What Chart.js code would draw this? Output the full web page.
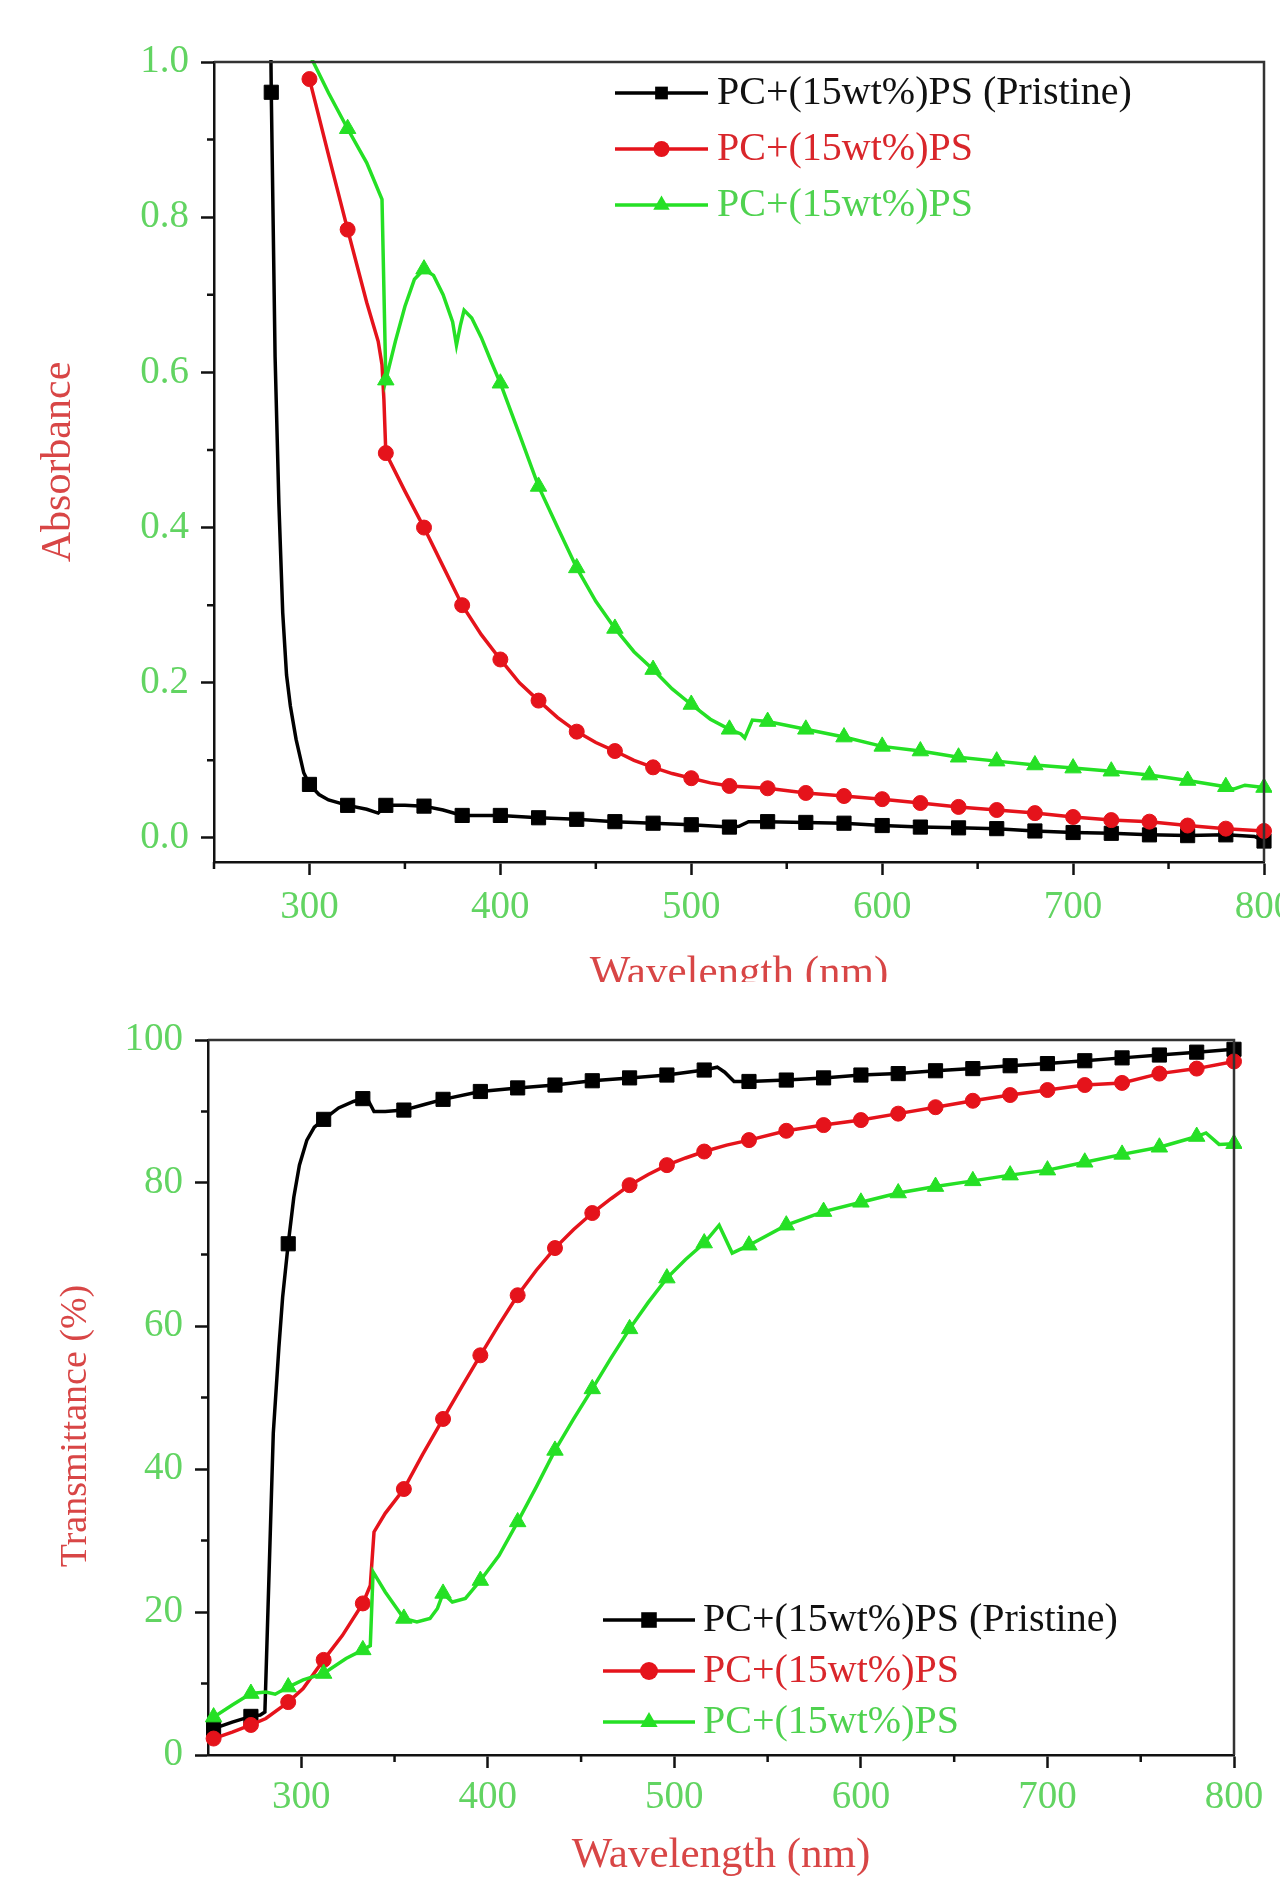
<!DOCTYPE html>
<html>
<head>
<meta charset="utf-8">
<title>Absorbance / Transmittance</title>
<script src="https://cdn.jsdelivr.net/npm/chart.js@4.4.1/dist/chart.umd.min.js"></script>
<style>
  html, body { margin: 0; padding: 0; background: #fff; }
  body { width: 1280px; height: 1882px; overflow: hidden; position: relative; }
  #topWrap { position: absolute; left: 0; top: 0; width: 1280px; height: 982px; overflow: hidden; }
  #topBox { position: relative; width: 1330px; height: 1010px; }
  #botBox { position: absolute; left: 0; top: 982px; width: 1280px; height: 900px; }
</style>
</head>
<body>
<div id="topWrap"><div id="topBox"><canvas id="absorbancia"></canvas></div></div>
<div id="botBox"><canvas id="transmitancia"></canvas></div>
<script>
// ---- datos: absorbancia ----
const absNegroWl = [279.5, 280, 282, 284, 286, 288, 290, 293, 297, 300, 305, 310, 320, 330, 336, 340, 350, 360, 370, 380, 400, 420, 440, 460, 480, 500, 520, 525, 530, 540, 560, 580, 600, 620, 640, 660, 680, 700, 720, 740, 760, 780, 795, 800];
const absNegro   = [1.08, 0.961, 0.62, 0.43, 0.29, 0.21, 0.17, 0.127, 0.084, 0.069, 0.056, 0.049, 0.042, 0.037, 0.032, 0.042, 0.042, 0.041, 0.036, 0.029, 0.029, 0.026, 0.024, 0.021, 0.019, 0.017, 0.014, 0.015, 0.021, 0.021, 0.020, 0.019, 0.016, 0.014, 0.013, 0.012, 0.009, 0.007, 0.006, 0.004, 0.003, 0.004, 0.002, -0.004];

const absRojoWl = [300, 310, 320, 330, 336, 338, 339, 340, 350, 360, 370, 380, 390, 400, 410, 420, 430, 440, 450, 460, 470, 480, 490, 500, 510, 520, 540, 560, 580, 600, 620, 640, 660, 680, 700, 720, 740, 760, 780, 800];
const absRojo   = [0.978, 0.88, 0.784, 0.69, 0.64, 0.61, 0.565, 0.496, 0.447, 0.40, 0.35, 0.30, 0.262, 0.23, 0.20, 0.177, 0.155, 0.137, 0.123, 0.112, 0.10, 0.091, 0.083, 0.077, 0.071, 0.067, 0.064, 0.058, 0.054, 0.05, 0.045, 0.04, 0.036, 0.032, 0.027, 0.023, 0.021, 0.016, 0.012, 0.009];

const absVerdeWl = [300, 302, 310, 320, 330, 338, 340, 345, 350, 355, 360, 365, 370, 375, 377, 379, 381, 385, 390, 395, 400, 410, 420, 430, 440, 450, 460, 470, 480, 490, 500, 510, 520, 526, 528, 532, 540, 560, 580, 600, 620, 640, 660, 680, 700, 720, 740, 760, 780, 784, 790, 800];
const absVerde   = [1.01, 1.0, 0.96, 0.914, 0.87, 0.823, 0.59, 0.64, 0.685, 0.72, 0.733, 0.725, 0.70, 0.665, 0.635, 0.66, 0.68, 0.67, 0.645, 0.615, 0.586, 0.52, 0.453, 0.40, 0.348, 0.305, 0.27, 0.24, 0.217, 0.192, 0.172, 0.153, 0.14, 0.134, 0.129, 0.152, 0.15, 0.14, 0.13, 0.118, 0.112, 0.104, 0.099, 0.094, 0.09, 0.086, 0.081, 0.074, 0.066, 0.063, 0.068, 0.065];

const absMarcas = [280, 300, 320, 340, 360, 380, 400, 420, 440, 460, 480, 500, 520, 540, 560, 580, 600, 620, 640, 660, 680, 700, 720, 740, 760, 780, 800];
const absTicksX = [300, 400, 500, 600, 700, 800];
const absMenoresX = [250, 350, 450, 550, 650, 750];
const absTicksY = [0.0, 0.2, 0.4, 0.6, 0.8, 1.0];
const absMenoresY = [0.1, 0.3, 0.5, 0.7, 0.9];

// ---- datos: transmitancia ----
const trNegroWl = [250, 253, 263, 273, 278, 280.5, 285, 288, 290, 293, 296, 299, 303, 307, 312, 320, 328, 333, 336, 339, 345, 355, 365, 376, 396, 416, 436, 456, 476, 496, 516, 523, 527, 532, 540, 560, 580, 600, 620, 640, 660, 680, 700, 720, 740, 760, 780, 800];
const trNegro   = [3.5, 3.7, 4.6, 5.4, 5.6, 6.0, 45, 57, 64, 71.5, 78, 82.5, 86, 87.8, 88.9, 90.5, 91.4, 91.8, 91.5, 90.0, 90.0, 90.2, 90.9, 91.7, 92.8, 93.3, 93.7, 94.3, 94.7, 95.1, 95.8, 96.2, 95.5, 94.2, 94.2, 94.4, 94.7, 95.1, 95.3, 95.7, 96.0, 96.4, 96.7, 97.1, 97.5, 97.9, 98.3, 98.7];

const trRojoWl = [250, 253, 263, 273, 281, 293, 301, 312, 322, 333, 337, 339, 345, 355, 365, 376, 386, 396, 406, 416, 426, 436, 446, 456, 466, 476, 486, 496, 506, 516, 528, 540, 560, 580, 600, 620, 640, 660, 680, 700, 720, 740, 760, 780, 800];
const trRojo   = [2.1, 2.3, 3.2, 4.2, 5.1, 7.4, 9.3, 13.3, 16.7, 21.2, 23.7, 31.2, 33.8, 37.2, 42, 47, 51.5, 55.9, 60.2, 64.3, 67.8, 70.9, 73.5, 75.8, 77.8, 79.7, 81.2, 82.5, 83.5, 84.4, 85.3, 86, 87.3, 88.1, 88.8, 89.7, 90.6, 91.5, 92.3, 93.0, 93.7, 94.0, 95.3, 96.0, 97.0];

const trVerdeWl = [250, 253, 263, 273, 281, 286, 293, 301, 312, 324, 333, 337, 338.5, 345, 355, 362, 369, 373, 376, 381, 388, 396, 406, 416, 426, 436, 446, 456, 466, 476, 486, 496, 506, 516, 524, 531, 540, 560, 580, 600, 620, 640, 660, 680, 700, 720, 740, 760, 780, 785, 792, 800];
const trVerde   = [5.1, 5.3, 7.0, 8.6, 8.8, 8.5, 9.5, 10.5, 11.4, 13.5, 14.7, 15.3, 25.6, 22.8, 19.1, 18.6, 19.1, 20.5, 22.6, 21.4, 21.9, 24.4, 27.9, 32.6, 37.5, 42.6, 47, 51.2, 55.5, 59.6, 63.3, 66.7, 69.3, 71.6, 74.1, 70.2, 71.3, 74.1, 76, 77.3, 78.6, 79.5, 80.3, 81.1, 81.8, 82.9, 84.0, 85.0, 86.5, 87.0, 85.4, 85.5];

const trMarcas = [253, 273, 293, 312, 333, 355, 376, 396, 416, 436, 456, 476, 496, 516, 540, 560, 580, 600, 620, 640, 660, 680, 700, 720, 740, 760, 780, 800];
const trTicksX = [300, 400, 500, 600, 700, 800];
const trMenoresX = [350, 450, 550, 650, 750];
const trTicksY = [0, 20, 40, 60, 80, 100];
const trMenoresY = [10, 30, 50, 70, 90];

const etiquetas = ['PC+(15wt%)PS (Pristine)', 'PC+(15wt%)PS', 'PC+(15wt%)PS'];

const NEGRO = '#000000';
const ROJO = '#e5131b';
const VERDE = '#25e025';
const VERDE_TXT = '#62d462';
const ROJO_TXT = '#d84646';
const SERIF = "'Liberation Serif', 'Times New Roman', serif";

Chart.defaults.font.family = SERIF;
Chart.defaults.color = '#000';

function puntos(xs, ys) {
    return xs.map((x, i) => ({ x: x, y: ys[i] }));
}

function marcador(ctx, estilo, x, y, r) {
    ctx.beginPath();
    if (estilo === 'rect') {
        const s = r * Math.SQRT1_2;
        ctx.rect(x - s, y - s, 2 * s, 2 * s);
    } else if (estilo === 'circle') {
        ctx.arc(x, y, r, 0, Math.PI * 2);
    } else {
        let rad = 0;
        ctx.moveTo(x + Math.sin(rad) * r, y - Math.cos(rad) * r);
        rad += Math.PI * 2 / 3;
        ctx.lineTo(x + Math.sin(rad) * r, y - Math.cos(rad) * r);
        rad += Math.PI * 2 / 3;
        ctx.lineTo(x + Math.sin(rad) * r, y - Math.cos(rad) * r);
        ctx.closePath();
    }
    ctx.fill();
}

// ticks menores + marco superior/derecho
const marcoPlugin = {
    id: 'marco',
    afterDraw(chart, args, opts) {
        const { ctx, chartArea } = chart;
        const xs = chart.scales.x, ys = chart.scales.y;
        ctx.save();
        ctx.strokeStyle = '#111';
        ctx.lineWidth = 2.5;
        ctx.beginPath();
        opts.menoresX.forEach(v => {
            const px = xs.getPixelForValue(v);
            ctx.moveTo(px, chartArea.bottom);
            ctx.lineTo(px, chartArea.bottom + 7);
        });
        opts.menoresY.forEach(v => {
            const py = ys.getPixelForValue(v);
            ctx.moveTo(chartArea.left, py);
            ctx.lineTo(chartArea.left - 7, py);
        });
        ctx.stroke();
        ctx.strokeStyle = '#333';
        ctx.beginPath();
        ctx.moveTo(chartArea.left, chartArea.top);
        ctx.lineTo(chartArea.right, chartArea.top);
        ctx.lineTo(chartArea.right, chartArea.bottom);
        ctx.stroke();
        ctx.restore();
    }
};

// leyenda con linea + marcador
const leyendaPlugin = {
    id: 'leyenda',
    afterDraw(chart, args, opts) {
        const ctx = chart.ctx;
        ctx.save();
        ctx.font = opts.font;
        ctx.textBaseline = 'middle';
        chart.data.datasets.forEach((ds, i) => {
            const y = opts.y + i * opts.paso;
            ctx.strokeStyle = ds.borderColor;
            ctx.lineWidth = 3.5;
            ctx.beginPath();
            ctx.moveTo(opts.x, y);
            ctx.lineTo(opts.x + opts.largo, y);
            ctx.stroke();
            ctx.fillStyle = ds.borderColor;
            marcador(ctx, ds.pointStyle, opts.x + opts.largo / 2, y, opts.radios[i]);
            ctx.fillStyle = opts.colores[i];
            ctx.fillText(ds.label, opts.x + opts.largo + opts.hueco, y);
        });
        ctx.restore();
    }
};

function serie(label, xs, ys, color, estilo, radio, marcas, orden) {
    return {
        label: label,
        data: puntos(xs, ys),
        borderColor: color,
        backgroundColor: color,
        borderWidth: 3.5,
        tension: 0,
        pointStyle: estilo,
        pointBorderWidth: 1,
        pointRadius: c => marcas.includes(c.raw.x) ? radio : 0,
        pointHoverRadius: 0,
        order: orden,
        clip: { left: 8, right: 8, top: 2, bottom: 8 }
    };
}

function opcionesEjes(cfg) {
    return {
        x: {
            type: 'linear',
            min: 250,
            max: 800,
            afterBuildTicks: s => { s.ticks = cfg.ticksX.map(v => ({ value: v })); },
            afterFit: s => { s.height = cfg.altoX; },
            grid: { drawOnChartArea: false, drawTicks: true, tickLength: 13, tickColor: '#111', tickWidth: 2.5 },
            border: { display: true, color: '#111', width: 2.5 },
            ticks: { color: VERDE_TXT, font: { size: 39 }, padding: cfg.padX, maxRotation: 0, autoSkip: false, callback: v => String(v) },
            title: { display: true, text: 'Wavelength (nm)', color: ROJO_TXT, font: { size: 43 }, padding: { top: 0, bottom: cfg.padTituloX } }
        },
        y: {
            type: 'linear',
            min: cfg.minY,
            max: cfg.maxY,
            afterBuildTicks: s => { s.ticks = cfg.ticksY.map(v => ({ value: v })); },
            afterFit: s => { s.width = cfg.anchoY; },
            grid: { drawOnChartArea: false, drawTicks: true, tickLength: 13, tickColor: '#111', tickWidth: 2.5 },
            border: { display: true, color: '#111', width: 2.5 },
            ticks: { color: VERDE_TXT, font: { size: 39 }, padding: 12, autoSkip: false, callback: cfg.formato },
            title: { display: true, text: cfg.tituloY, color: ROJO_TXT, font: { size: cfg.tamTituloY }, padding: { top: cfg.padTituloY, bottom: 0 } }
        }
    };
}

const graficaAbs = new Chart(document.getElementById('absorbancia'), {
    type: 'line',
    data: {
        datasets: [
            serie(etiquetas[0], absNegroWl, absNegro, NEGRO, 'rect', 10, absMarcas, 3),
            serie(etiquetas[1], absRojoWl, absRojo, ROJO, 'circle', 7.5, absMarcas, 2),
            serie(etiquetas[2], absVerdeWl, absVerde, VERDE, 'triangle', 9.5, absMarcas, 1)
        ]
    },
    options: {
        responsive: true,
        maintainAspectRatio: false,
        animation: false,
        events: [],
        layout: { padding: { top: 62, right: 66, left: 0, bottom: 0 } },
        scales: opcionesEjes({
            ticksX: absTicksX, ticksY: absTicksY, minY: -0.031, maxY: 1.0,
            altoX: 148, anchoY: 214, padX: 9, padTituloX: 10, padTituloY: 34, tamTituloY: 42,
            tituloY: 'Absorbance', formato: v => v.toFixed(1)
        }),
        plugins: {
            legend: { display: false },
            tooltip: { enabled: false },
            marco: { menoresX: absMenoresX, menoresY: absMenoresY },
            leyenda: {
                x: 615, y: 93, paso: 56, largo: 93, hueco: 9, font: '40px ' + SERIF,
                radios: [9, 8, 9.5], colores: ['#111111', '#d9262b', '#4fd24f']
            }
        }
    },
    plugins: [marcoPlugin, leyendaPlugin]
});

// los espacios finales (nbsp) bajan un poco el titulo girado, como en la figura original
const graficaTr = new Chart(document.getElementById('transmitancia'), {
    type: 'line',
    data: {
        datasets: [
            serie(etiquetas[0], trNegroWl, trNegro, NEGRO, 'rect', 10, trMarcas, 3),
            serie(etiquetas[1], trRojoWl, trRojo, ROJO, 'circle', 7.5, trMarcas, 2),
            serie(etiquetas[2], trVerdeWl, trVerde, VERDE, 'triangle', 9.5, trMarcas, 1)
        ]
    },
    options: {
        responsive: true,
        maintainAspectRatio: false,
        animation: false,
        events: [],
        layout: { padding: { top: 58, right: 46, left: 0, bottom: 0 } },
        scales: opcionesEjes({
            ticksX: trTicksX, ticksY: trTicksY, minY: 0, maxY: 100,
            altoX: 127, anchoY: 208, padX: 6, padTituloX: 0, padTituloY: 53, tamTituloY: 38,
            tituloY: 'Transmittance (%)\u00A0\u00A0\u00A0\u00A0\u00A0\u00A0', formato: v => String(v)
        }),
        plugins: {
            legend: { display: false },
            tooltip: { enabled: false },
            marco: { menoresX: trMenoresX, menoresY: trMenoresY },
            leyenda: {
                x: 603, y: 1620 - 982, paso: 51, largo: 92, hueco: 8, font: '40px ' + SERIF,
                radios: [11, 9, 10], colores: ['#111111', '#d9262b', '#4fd24f']
            }
        }
    },
    plugins: [marcoPlugin, leyendaPlugin]
});
</script>
</body>
</html>
